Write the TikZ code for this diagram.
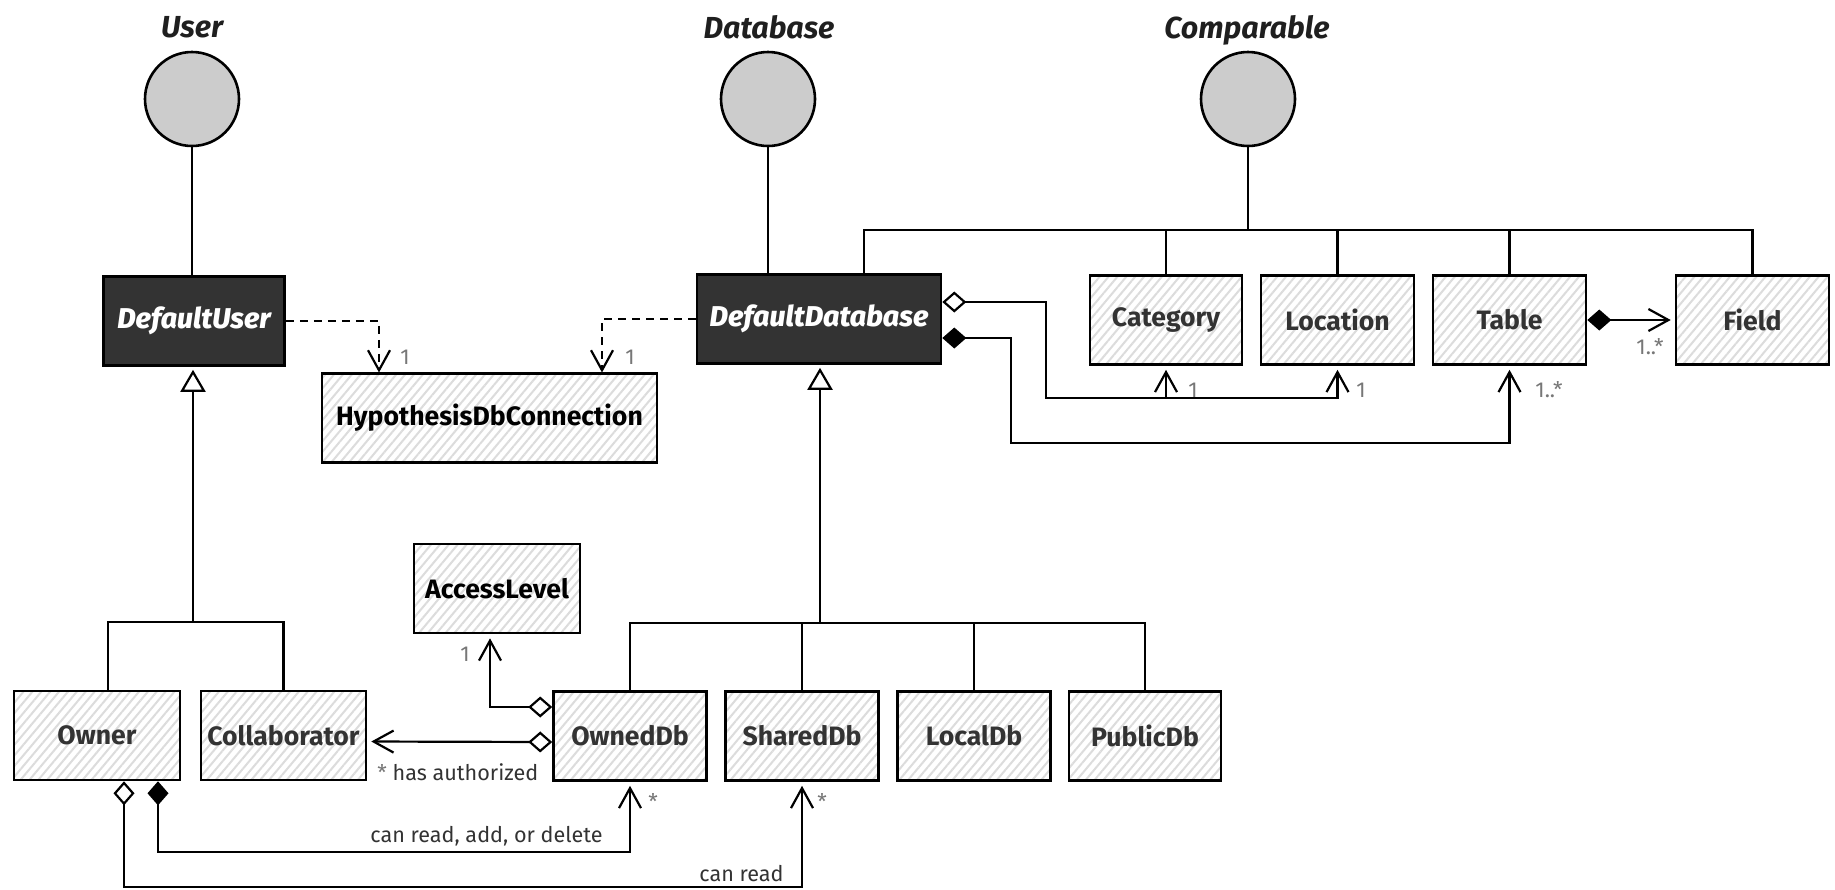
\documentclass[tikz,border=0pt]{standalone}
\usepackage{fontspec}
\setmainfont{Fira Sans}
\newfontfamily\heavyfont{Fira Sans ExtraBold Italic}
\usepackage{tikz}
\usetikzlibrary{arrows.meta}
\usetikzlibrary{patterns.meta}
\usetikzlibrary{calc}

\definecolor{darkbox}{HTML}{333333}
\definecolor{ifacegray}{HTML}{CCCCCC}
\definecolor{hatchgray}{HTML}{DCDCDC}
\definecolor{textgray}{HTML}{333333}
\definecolor{multgray}{HTML}{777777}

\newcommand{\clsfont}{\fontsize{13.3}{15}\selectfont\bfseries}

\tikzset{
  classbox/.style={draw=black, line width=1.3pt, minimum height=44.5pt, inner sep=0pt,
    font=\clsfont, text=textgray, preaction={fill=white},
    pattern={Lines[angle=50,distance=3.4pt,line width=1pt]}, pattern color=hatchgray},
  abstractbox/.style={draw=black, line width=1.3pt, fill=darkbox, minimum height=44.5pt,
    inner sep=0pt, text=white, font=\heavyfont\fontsize{14.3}{16}\selectfont},
  iface/.style={circle, draw=black, line width=1.3pt, fill=ifacegray, minimum size=47pt, inner sep=0pt},
  ilabel/.style={font=\fontsize{15.2}{18}\selectfont\bfseries\itshape, text=black!88, anchor=base, inner sep=0pt},
  plainline/.style={line width=1.1pt},
  genline/.style={line width=1.1pt, -{Triangle[open,length=11pt,width=12.5pt]}, shorten >=1.5pt},
  depline/.style={line width=1.1pt, dash pattern=on 4pt off 3pt, -{Straight Barb[length=10pt,width=11pt]}},
  navline/.style={line width=1.1pt, -{Straight Barb[length=10pt,width=11pt]}, shorten >=2pt},
  aggline/.style={line width=1.1pt, {Diamond[open,length=12pt,width=10.5pt]}-{Straight Barb[length=10pt,width=11pt]}, shorten >=2pt},
  compline/.style={line width=1.1pt, {Diamond[length=12pt,width=10.5pt]}-{Straight Barb[length=10pt,width=11pt]}, shorten >=2pt},
  mult/.style={font=\fontsize{10.8}{13}\selectfont, text=multgray, anchor=base west, inner sep=0pt},
  role/.style={font=\fontsize{10.8}{13}\selectfont, text=textgray, inner sep=0pt},
}

\begin{document}
\begin{tikzpicture}[x=0.5pt,y=0.5pt,yscale=-1,xscale=1]
\fill[white] (0,0) rectangle (1835,889);
\useasboundingbox (0,0) rectangle (1835,889);

%Interfaces
\node[iface] (user) at (192,99) {};
\node[ilabel] (userlbl) at (192,37) {User};
\node[iface] (db) at (768,99) {};
\node[ilabel] (dblbl) at (769,38) {Database};
\node[iface] (cmp) at (1248,99) {};
\node[ilabel] (cmplbl) at (1247,38) {Comparable};

%Abstract classes
\node[abstractbox, minimum width=90.5pt] (defuser) at (194,321) {\raisebox{-1pt}{DefaultUser}};
\node[abstractbox, minimum width=122pt] (defdb) at (819,319) {\raisebox{-1pt}{DefaultDatabase}};

%Classes
\node[classbox, minimum width=167.5pt, text=black] (hyp) at (489.5,418) {HypothesisDbConnection};
\node[classbox, minimum width=76pt] (cat) at (1166,320) {Category};
\node[classbox, minimum width=76.5pt] (loc) at (1337.5,320) {Location};
\node[classbox, minimum width=76.5pt] (tbl) at (1509.5,320) {Table};
\node[classbox, minimum width=76.5pt] (field) at (1752.5,320) {Field};
\node[classbox, minimum width=83pt, text=black] (acc) at (497,588.5) {AccessLevel};
\node[classbox, minimum width=83pt] (owner) at (97,735.5) {Owner};
\node[classbox, minimum width=82.5pt] (collab) at (283.5,735.5) {Collaborator};
\node[classbox, minimum width=76.5pt] (owned) at (630,736) {OwnedDb};
\node[classbox, minimum width=76.5pt] (shared) at (802,736) {SharedDb};
\node[classbox, minimum width=76.5pt] (local) at (974,736) {LocalDb};
\node[classbox, minimum width=76pt] (public) at (1145,736) {PublicDb};

%Realizations
\draw[plainline] (user.south) -- (user.south |- defuser.north);
\draw[plainline] (db.south) -- (db.south |- defdb.north);
\coordinate (cmpbar) at (1248,230);
\draw[plainline] (cmp.south) -- (cmpbar);
\draw[plainline] ($(defdb.north)+(45,0)$) |- (field.north |- cmpbar) -- (field.north);
\foreach \n in {cat,loc,tbl} \draw[plainline] (\n.north |- cmpbar) -- (\n.north);

%Generalization: DefaultUser
\coordinate (userbar) at (193,622);
\draw[genline] (userbar) -- (userbar |- defuser.south);
\draw[plainline] ($(owner.north)+(11,0)$) |- (collab.north |- userbar) -- (collab.north);

%Generalization: DefaultDatabase
\coordinate (dbbar) at (820,623);
\draw[genline] (dbbar) -- (dbbar |- defdb.south);
\draw[plainline] (owned.north) |- (public.north |- dbbar) -- (public.north);
\foreach \n in {shared,local} \draw[plainline] (\n.north |- dbbar) -- (\n.north);

%Dependencies
\draw[depline] (defuser.east) -| ($(hyp.north west)+(58,0)$);
\draw[depline] (defdb.west) -| ($(hyp.north west)+(281,0)$);

%DefaultDatabase associations
\draw[aggline] ($(defdb.east)+(0,-17)$) -- ++(104,0) |- ($(loc.south)+(0,32)$) -- (loc.south);
\draw[navline] ($(cat.south)+(0,32)$) -- (cat.south);
\draw[compline] ($(defdb.east)+(0,19)$) -- ++(69,0) |- ($(tbl.south)+(0,77)$) -- (tbl.south);
\draw[compline] (tbl.east) -- (field.west);

%OwnedDb associations
\draw[aggline] ($(owned.west)+(0,-29)$) -| ($(acc.south)+(-7,0)$);
\draw[aggline] ($(owned.west)+(0,6)$) -- ($(collab.east)+(0,6)$);

%Owner associations
\draw[compline] ($(owner.south)+(61,0)$) |- ($(owned.south)+(0,70)$) -- (owned.south);
\draw[aggline] ($(owner.south)+(27,0)$) |- ($(shared.south)+(0,105)$) -- (shared.south);

%Multiplicities and roles
\node[mult] (m1) at (400,364) {1};
\node[mult] (m2) at (625,364) {1};
\node[mult] (m3) at (1188,397) {1};
\node[mult] (m4) at (1356,397) {1};
\node[mult] (m5) at (1535,397) {1..*};
\node[mult] (m6) at (1636,354) {1..*};
\node[mult] (m7) at (460,661) {1};
\node[mult] (m8) at (648,809) {*};
\node[mult] (m9) at (817,809) {*};
\node[role, anchor=base west] (r1) at (377,780) {{\color{multgray}*} has authorized};
\node[role, anchor=base east] (r2) at (603,842) {can read, add, or delete};
\node[role, anchor=base east] (r3) at (784,881) {can read};

\end{tikzpicture}
\end{document}
